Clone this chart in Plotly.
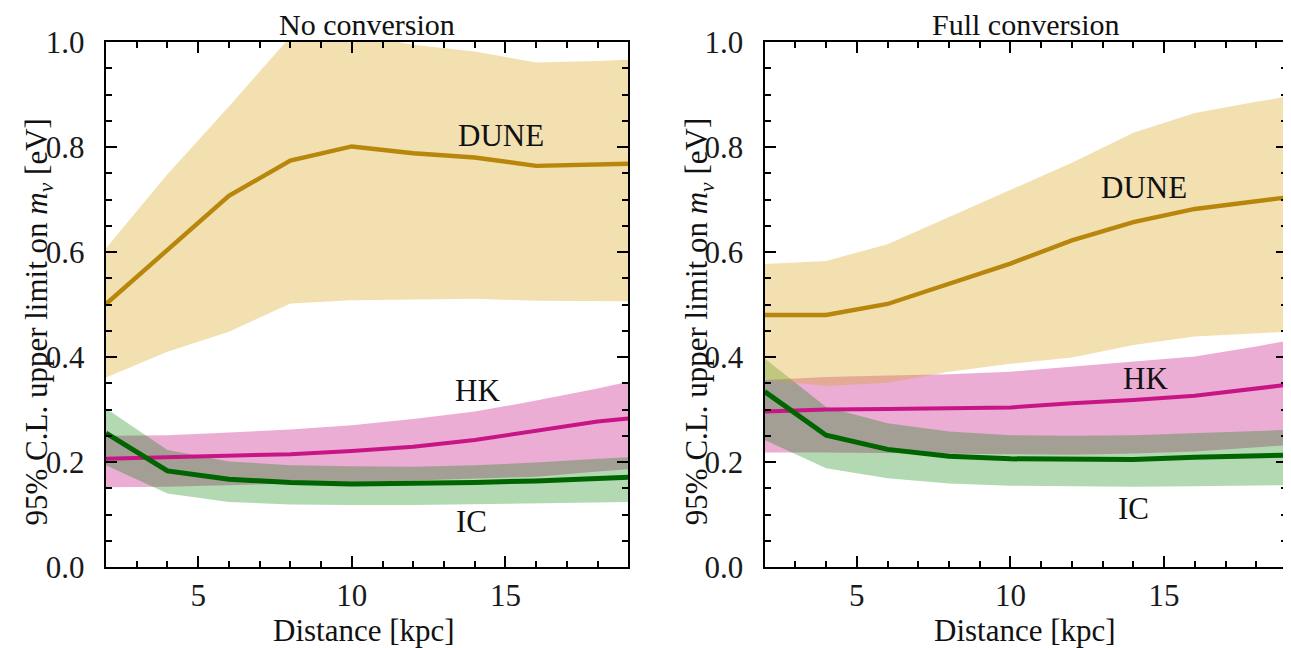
import plotly.graph_objects as go

# ---------------- data ----------------
distance = [2, 4, 6, 8, 10, 12, 14, 16, 18, 19]

# No conversion
dune_nc = [0.501, 0.604, 0.707, 0.774, 0.801, 0.788, 0.780, 0.764, 0.768, 0.768]
dune_nc_hi = [0.607, 0.748, 0.877, 1.010, 1.015, 0.995, 0.982, 0.961, 0.964, 0.966]
dune_nc_lo = [0.361, 0.410, 0.448, 0.502, 0.508, 0.510, 0.511, 0.507, 0.506, 0.506]
hk_nc = [0.206, 0.209, 0.211, 0.215, 0.221, 0.229, 0.242, 0.260, 0.277, 0.283]
hk_nc_hi = [0.250, 0.251, 0.256, 0.262, 0.270, 0.282, 0.296, 0.317, 0.340, 0.353]
hk_nc_lo = [0.152, 0.153, 0.156, 0.159, 0.162, 0.165, 0.168, 0.172, 0.182, 0.186]
ic_nc = [0.255, 0.183, 0.167, 0.161, 0.158, 0.159, 0.161, 0.164, 0.169, 0.171]
ic_nc_hi = [0.302, 0.223, 0.201, 0.194, 0.192, 0.191, 0.194, 0.199, 0.206, 0.209]
ic_nc_lo = [0.194, 0.140, 0.124, 0.119, 0.118, 0.118, 0.119, 0.121, 0.123, 0.124]

# Full conversion
dune_fc = [0.480, 0.480, 0.501, 0.540, 0.578, 0.622, 0.657, 0.682, 0.697, 0.704]
dune_fc_hi = [0.577, 0.583, 0.615, 0.667, 0.718, 0.770, 0.827, 0.865, 0.886, 0.896]
dune_fc_lo = [0.357, 0.345, 0.351, 0.372, 0.387, 0.399, 0.423, 0.439, 0.445, 0.448]
hk_fc = [0.296, 0.300, 0.301, 0.302, 0.304, 0.312, 0.318, 0.326, 0.340, 0.347]
hk_fc_hi = [0.356, 0.362, 0.365, 0.367, 0.372, 0.382, 0.391, 0.401, 0.420, 0.431]
hk_fc_lo = [0.218, 0.218, 0.218, 0.216, 0.215, 0.214, 0.216, 0.220, 0.228, 0.232]
ic_fc = [0.334, 0.251, 0.224, 0.211, 0.206, 0.205, 0.205, 0.209, 0.211, 0.213]
ic_fc_hi = [0.397, 0.305, 0.274, 0.258, 0.251, 0.250, 0.251, 0.255, 0.258, 0.261]
ic_fc_lo = [0.242, 0.188, 0.169, 0.159, 0.155, 0.154, 0.153, 0.154, 0.155, 0.156]

panel_titles = ["No conversion", "Full conversion"]
detectors = ["DUNE", "HK", "IC"]

# ---------------- styling ----------------
FONT = "'Liberation Serif', 'Times New Roman', 'DejaVu Serif', serif"
line_col = {"DUNE": "#b8860b", "HK": "#c71585", "IC": "#006400"}
fill_col = {"DUNE": "rgba(218,165,32,0.35)", "HK": "rgba(199,21,133,0.35)",
            "IC": "rgba(0,128,0,0.30)"}
line_w = {"DUNE": 4.4, "HK": 4.0, "IC": 5.0}

OFF = 8  # page body margin
W, H = 1291 - OFF, 648 - OFF
ML = 105.6 - OFF
MR = W - (1289 - OFF)
MT = 42 - OFF
MB = H - (567 - OFF)
PW = W - ML - MR
PH = H - MT - MB
dom1 = [0, (629 - 105.6) / PW]
dom2 = [(765.6 - 105.6) / PW, 1]

fig = go.Figure()

panels = [
    ("x", "y", {"DUNE": (dune_nc, dune_nc_lo, dune_nc_hi),
                "HK": (hk_nc, hk_nc_lo, hk_nc_hi),
                "IC": (ic_nc, ic_nc_lo, ic_nc_hi)}),
    ("x2", "y2", {"DUNE": (dune_fc, dune_fc_lo, dune_fc_hi),
                  "HK": (hk_fc, hk_fc_lo, hk_fc_hi),
                  "IC": (ic_fc, ic_fc_lo, ic_fc_hi)}),
]

for xa, ya, data in panels:
    for det in ["HK", "IC", "DUNE"]:
        c, lo, hi = data[det]
        fig.add_trace(go.Scatter(
            x=distance + distance[::-1], y=hi + lo[::-1],
            fill="toself", fillcolor=fill_col[det], mode="lines",
            line=dict(width=0, color="rgba(0,0,0,0)"),
            hoverinfo="skip", showlegend=False, xaxis=xa, yaxis=ya))
    for det in ["HK", "IC", "DUNE"]:
        c, lo, hi = data[det]
        fig.add_trace(go.Scatter(
            x=distance, y=c, mode="lines", name=det,
            line=dict(color=line_col[det], width=line_w[det]),
            showlegend=False, xaxis=xa, yaxis=ya))

axis_common = dict(
    showgrid=False, zeroline=False, showline=True, linecolor="black",
    linewidth=2.4, mirror="allticks", ticks="inside", tickcolor="black",
    tickwidth=2, tickfont=dict(family=FONT, size=31, color="#1a1a1a"),
)
xax = dict(axis_common, range=[2, 19], tick0=0, dtick=5, ticklen=11,
           ticklabelstandoff=0,
           minor=dict(dtick=1, tick0=0, ticklen=6, tickwidth=1.6,
                      tickcolor="black", ticks="inside", showgrid=False))
yax = dict(axis_common, range=[0, 1], tick0=0, dtick=0.2, ticklen=11,
           tickformat=".1f", ticklabelstandoff=13,
           minor=dict(dtick=0.05, tick0=0, ticklen=6, tickwidth=1.6,
                      tickcolor="black", ticks="inside", showgrid=False))

fig.update_layout(
    width=W, height=H,
    margin=dict(l=ML, r=MR, t=MT, b=MB, pad=0),
    plot_bgcolor="white", paper_bgcolor="white",
    font=dict(family=FONT),
    xaxis=dict(xax, domain=dom1, anchor="y"),
    yaxis=dict(yax, domain=[0, 1], anchor="x"),
    xaxis2=dict(xax, domain=dom2, anchor="y2"),
    yaxis2=dict(yax, domain=[0, 1], anchor="x2"),
)

def px2paper_x(px):
    return (px - OFF - ML) / PW

def px2paper_y(py):
    return (H - MB - (py - OFF)) / PH

ann = []
txtfont = dict(family=FONT, size=31, color="#111")
# panel titles
for t, cx in zip(panel_titles, [367, 1027]):
    ann.append(dict(text=t, x=px2paper_x(cx), y=px2paper_y(25), xref="paper",
                    yref="paper", showarrow=False, font=dict(txtfont, size=30),
                    xanchor="center", yanchor="middle", borderpad=0))
# x titles
for cx in [364, 1026]:
    ann.append(dict(text="Distance [kpc]", x=px2paper_x(cx), y=px2paper_y(630),
                    xref="paper", yref="paper", showarrow=False, font=txtfont,
                    xanchor="center", yanchor="middle"))
# y titles
ytitle = "95% C.L. upper limit on <i>m</i><sub><i>ν</i></sub> [eV]"
for cx in [38, 700]:
    ann.append(dict(text=ytitle, x=px2paper_x(cx), y=px2paper_y(322),
                    xref="paper", yref="paper", showarrow=False, font=txtfont,
                    textangle=-90, xanchor="center", yanchor="middle"))
# detector labels
label_pos = [
    ("x", "y", "DUNE", 14.87, 0.821), ("x", "y", "HK", 14.09, 0.337),
    ("x", "y", "IC", 13.9, 0.086),
    ("x2", "y2", "DUNE", 14.35, 0.722), ("x2", "y2", "HK", 14.4, 0.36),
    ("x2", "y2", "IC", 14.0, 0.112),
]
for xa, ya, t, lx, ly in label_pos:
    ann.append(dict(text=t, x=lx, y=ly, xref=xa, yref=ya, showarrow=False,
                    font=dict(family=FONT, size=31, color="#111"),
                    xanchor="center", yanchor="middle"))

fig.update_layout(annotations=ann)
fig.write_html("out.html")
